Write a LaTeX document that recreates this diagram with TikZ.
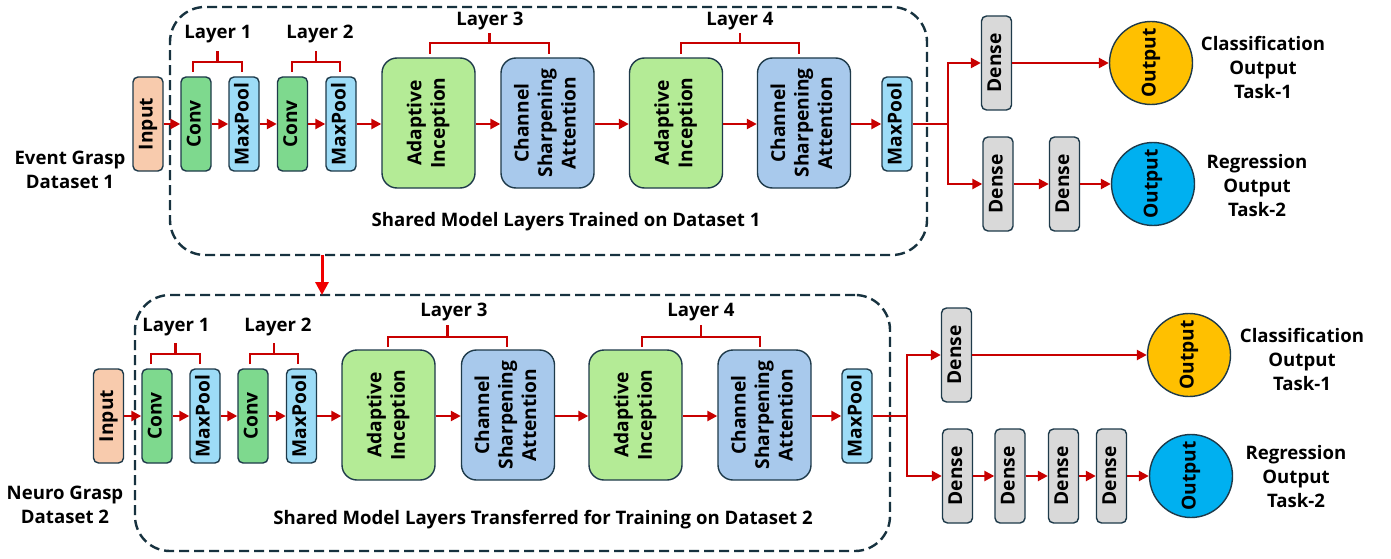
\documentclass[tikz,border=0pt]{standalone}
\usepackage{fontspec}
\setmainfont{Open Sans}
\usetikzlibrary{arrows.meta}
\definecolor{bd}{HTML}{1E3A4A}
\definecolor{dashc}{HTML}{17323F}
\definecolor{inputc}{HTML}{F8CBAD}
\definecolor{convc}{HTML}{7ED98E}
\definecolor{poolc}{HTML}{9DDCF7}
\definecolor{aic}{HTML}{B4EB96}
\definecolor{csac}{HTML}{A8C9EC}
\definecolor{densec}{HTML}{D9D9D9}
\definecolor{arr}{HTML}{C80000}
\definecolor{bigarr}{HTML}{F00000}
\definecolor{orangec}{HTML}{FFC000}
\definecolor{bluec}{HTML}{00B0F0}
\newcommand{\rt}[1]{\rotatebox{90}{\begin{tabular}{@{}c@{}}#1\end{tabular}}}
\tikzset{
  txt/.style={font=\fontsize{18.6}{24}\selectfont\bfseries, align=center, inner sep=0pt},
  blk/.style={draw=bd, line width=1.4pt, inner sep=0pt, font=\fontsize{19.2}{23.5}\selectfont\bfseries},
  smallbox/.style={blk, rounded corners=5pt, minimum width=30pt, minimum height=94pt},
  bigbox/.style={blk, rounded corners=15pt, minimum width=93pt, minimum height=130pt},
  inbox/.style={smallbox, fill=inputc},
  convbox/.style={smallbox, fill=convc},
  poolbox/.style={smallbox, fill=poolc},
  densebox/.style={smallbox, fill=densec},
  aibox/.style={bigbox, fill=aic},
  csabox/.style={bigbox, fill=csac},
  outc/.style={blk, circle, minimum size=83pt},
  dashbox/.style={draw=dashc, line width=2.4pt, dash pattern=on 10pt off 5pt, rounded corners=35pt, inner sep=0pt},
  conn/.style={draw=arr, line width=2.4pt, -{Triangle[length=10pt, width=10pt]}},
  brk/.style={draw=arr, line width=2.4pt},
}
\begin{document}
\begin{tikzpicture}[x=1pt, y=-1pt]
\useasboundingbox[fill=white] (0,0) rectangle (1391,559);

% dashed frames
\node[dashbox, minimum width=757pt, minimum height=248pt] (frameA) at (548.5,131) {};
\node[dashbox, minimum width=755pt, minimum height=256pt] (frameB) at (512.5,423) {};

% ---------- top row ----------
\node[inbox]   (in1) at (148,124) {\rt{Input}};
\node[convbox] (c1a) at (196,124) {\rt{Conv}};
\node[poolbox] (p1a) at (244,124) {\rt{MaxPool}};
\node[convbox] (c2a) at (292.5,124) {\rt{Conv}};
\node[poolbox] (p2a) at (341,124) {\rt{MaxPool}};
\node[aibox]   (ai1a) at (428.5,123) {\rt{Adaptive\\Inception}};
\node[csabox]  (cs1a) at (547.5,123) {\rt{Channel\\Sharpening\\Attention}};
\node[aibox]   (ai2a) at (676,123) {\rt{Adaptive\\Inception}};
\node[csabox]  (cs2a) at (804,123) {\rt{Channel\\Sharpening\\Attention}};
\node[poolbox] (p3a) at (897,124) {\rt{MaxPool}};

\draw[conn] (in1) -- (c1a);
\draw[conn] (c1a) -- (p1a);
\draw[conn] (p1a) -- (c2a);
\draw[conn] (c2a) -- (p2a);
\draw[conn] (p2a) -- (ai1a.west |- p2a);
\draw[conn] (ai1a.east |- p2a) -- (cs1a.west |- p2a);
\draw[conn] (cs1a.east |- p2a) -- (ai2a.west |- p2a);
\draw[conn] (ai2a.east |- p2a) -- (cs2a.west |- p2a);
\draw[conn] (cs2a.east |- p2a) -- (p3a);

\node[densebox] (dA)  at (996.5,63) {\rt{Dense}};
\node[outc, fill=orangec] (oA) at (1151,63) {\rt{Output}};
\node[densebox] (dB1) at (998,184) {\rt{Dense}};
\node[densebox] (dB2) at (1064.5,184) {\rt{Dense}};
\node[outc, fill=bluec] (oB) at (1153,184) {\rt{Output}};
\coordinate (brA) at (948,124);
\draw[conn] (p3a.east) -- (brA) |- (dA);
\draw[conn] (brA) |- (dB1);
\draw[conn] (dA) -- (oA);
\draw[conn] (dB1) -- (dB2);
\draw[conn] (dB2) -- (oB);

\node[txt] (clsA) at (1263,67) {Classification\\Output\\Task-1};
\node[txt] (regA) at (1257,186) {Regression\\Output\\Task-2};
\node[txt] (dsA) at (70,170) {Event Grasp\\Dataset 1};
\node[txt] (shA) at (566,222) {Shared Model Layers Trained on Dataset 1};

\node[txt] (L1a) at (218,34) {Layer 1};
\node[txt] (L2a) at (320,34) {Layer 2};
\node[txt] (L3a) at (490,21) {Layer 3};
\node[txt] (L4a) at (740,21) {Layer 4};
\draw[brk] (193,72) -- (193,62) -- (242,62) -- (242,72) (217.5,62) -- (217.5,51);
\draw[brk] (292,72) -- (292,62) -- (340,62) -- (340,72) (316,62) -- (316,51);
\draw[brk] (430,54) -- (430,43) -- (549,43) -- (549,54) (489.5,43) -- (489.5,33);
\draw[brk] (681,54) -- (681,43) -- (799,43) -- (799,54) (740,43) -- (740,33);

% transfer arrow
\coordinate (tA) at (322,255);
\coordinate (tB) at (322,295);
\draw[draw=bigarr, line width=3pt, -{Triangle[length=13pt, width=13pt]}] (tA) -- (tB);

% ---------- bottom row ----------
\node[inbox]   (in2) at (108.5,416) {\rt{Input}};
\node[convbox] (c1b) at (157,416) {\rt{Conv}};
\node[poolbox] (p1b) at (205,416) {\rt{MaxPool}};
\node[convbox] (c2b) at (253,416) {\rt{Conv}};
\node[poolbox] (p2b) at (301.5,416) {\rt{MaxPool}};
\node[aibox]   (ai1b) at (388.5,415) {\rt{Adaptive\\Inception}};
\node[csabox]  (cs1b) at (508,415) {\rt{Channel\\Sharpening\\Attention}};
\node[aibox]   (ai2b) at (635.5,415) {\rt{Adaptive\\Inception}};
\node[csabox]  (cs2b) at (764.5,415) {\rt{Channel\\Sharpening\\Attention}};
\node[poolbox] (p3b) at (857,416) {\rt{MaxPool}};

\draw[conn] (in2) -- (c1b);
\draw[conn] (c1b) -- (p1b);
\draw[conn] (p1b) -- (c2b);
\draw[conn] (c2b) -- (p2b);
\draw[conn] (p2b) -- (ai1b.west |- p2b);
\draw[conn] (ai1b.east |- p2b) -- (cs1b.west |- p2b);
\draw[conn] (cs1b.east |- p2b) -- (ai2b.west |- p2b);
\draw[conn] (ai2b.east |- p2b) -- (cs2b.west |- p2b);
\draw[conn] (cs2b.east |- p2b) -- (p3b);

\node[densebox] (dC)  at (956.5,355) {\rt{Dense}};
\node[outc, fill=orangec] (oC) at (1189,355) {\rt{Output}};
\node[densebox] (dD1) at (957.5,476) {\rt{Dense}};
\node[densebox] (dD2) at (1010,476) {\rt{Dense}};
\node[densebox] (dD3) at (1063.5,476) {\rt{Dense}};
\node[densebox] (dD4) at (1111.5,476) {\rt{Dense}};
\node[outc, fill=bluec] (oD) at (1191,476) {\rt{Output}};
\coordinate (brB) at (907,416);
\draw[conn] (p3b.east) -- (brB) |- (dC);
\draw[conn] (brB) |- (dD1);
\draw[conn] (dC) -- (oC);
\draw[conn] (dD1) -- (dD2);
\draw[conn] (dD2) -- (dD3);
\draw[conn] (dD3) -- (dD4);
\draw[conn] (dD4) -- (oD);

\node[txt] (clsB) at (1302,359) {Classification\\Output\\Task-1};
\node[txt] (regB) at (1296,477) {Regression\\Output\\Task-2};
\node[txt] (dsB) at (65,505) {Neuro Grasp\\Dataset 2};
\node[txt] (shB) at (543,520) {Shared Model Layers Transferred for Training on Dataset 2};

\node[txt] (L1b) at (176,327) {Layer 1};
\node[txt] (L2b) at (278,327) {Layer 2};
\node[txt] (L3b) at (454,312) {Layer 3};
\node[txt] (L4b) at (701,312) {Layer 4};
\draw[brk] (151,364) -- (151,354) -- (200,354) -- (200,364) (175.5,354) -- (175.5,343);
\draw[brk] (250,364) -- (250,354) -- (298,354) -- (298,364) (274,354) -- (274,343);
\draw[brk] (388,347) -- (388,337) -- (507,337) -- (507,347) (447.5,337) -- (447.5,325);
\draw[brk] (642,347) -- (642,337) -- (760,337) -- (760,347) (701,337) -- (701,325);
\end{tikzpicture}
\end{document}
